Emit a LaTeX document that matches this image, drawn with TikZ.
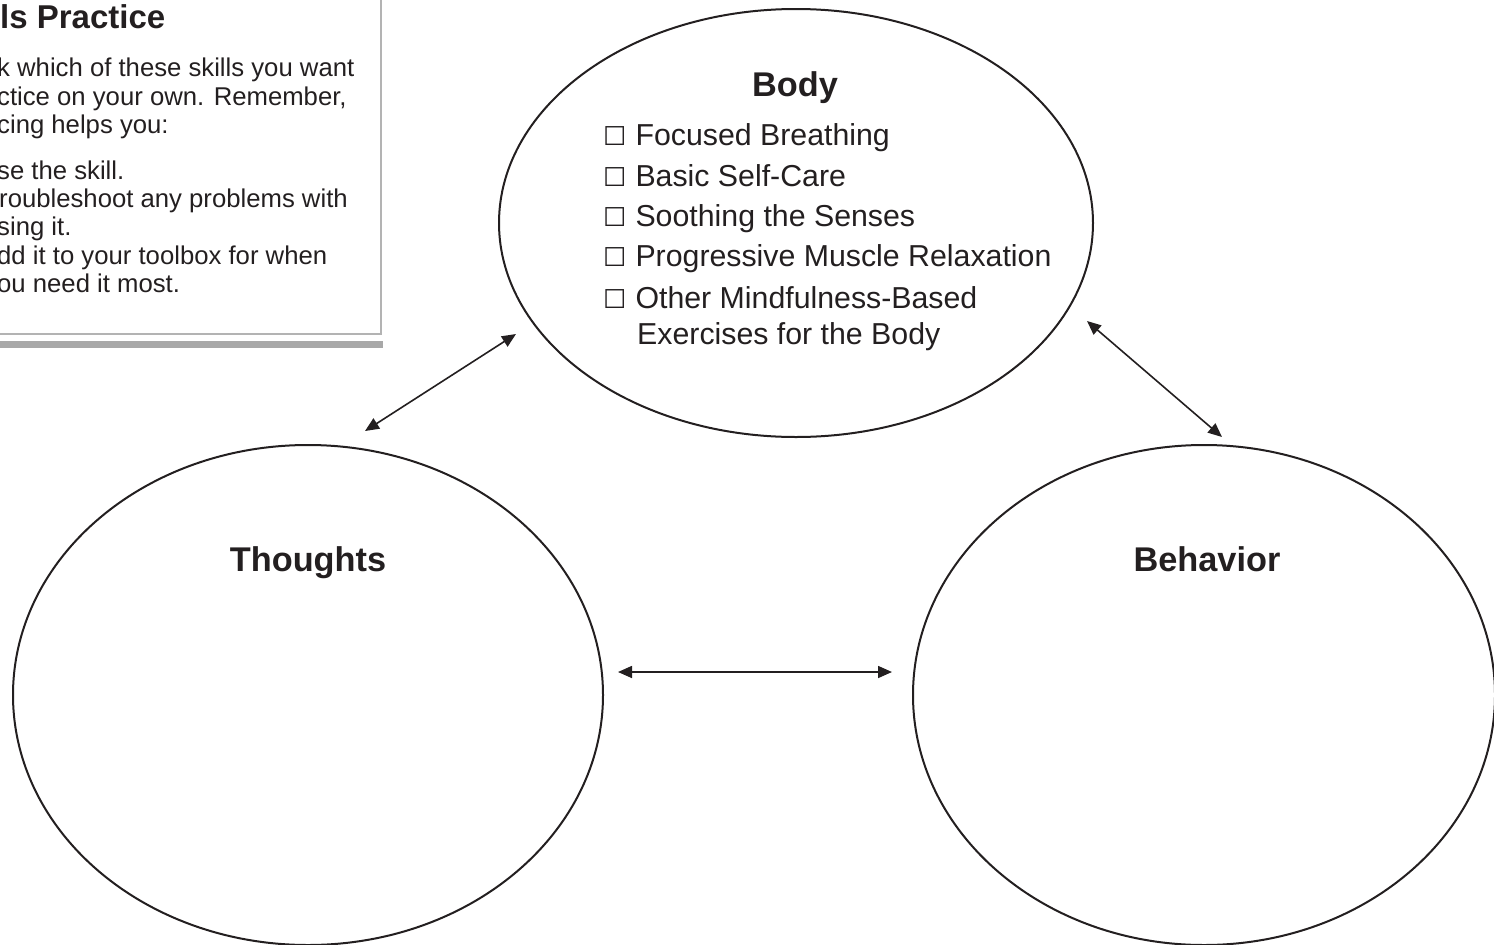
\documentclass[tikz,border=0pt]{standalone}
\usepackage{fontspec}
\setmainfont{Liberation Sans}
\newfontfamily\symfont{DejaVu Sans}
\usetikzlibrary{shapes.geometric,arrows.meta}
\definecolor{ink}{HTML}{231F20}
\definecolor{frame}{HTML}{B3B3B3}
\definecolor{bar}{HTML}{A8A8A8}
\newcommand\chkbox{{\symfont\fontsize{26}{30}\selectfont ☐}\hspace{9pt}}

\begin{document}
\begin{tikzpicture}[x=1pt,y=-1pt,
  circ/.style={ellipse, draw=ink, line width=2pt, inner sep=0pt},
  heading/.style={anchor=base, inner sep=0pt, font=\fontsize{34.3}{40}\selectfont\bfseries, text=ink},
  item/.style={anchor=base west, inner sep=0pt, font=\fontsize{30.3}{36}\selectfont, text=ink},
  note/.style={anchor=base west, inner sep=0pt, font=\fontsize{25.7}{30}\selectfont, text=ink},
  title/.style={anchor=base west, inner sep=0pt, font=\fontsize{33}{38}\selectfont\bfseries, text=ink},
  link/.style={{Triangle[length=14pt,width=12pt]}-{Triangle[length=14pt,width=12pt]}, line width=1.6pt, draw=ink}
]
\useasboundingbox (0,0) rectangle (1494,945);

% practice panel in the top left corner
\draw[frame, line width=2.4pt] (-20,-20) rectangle (381,334);
\fill[bar] (-20,341) rectangle (383,348);
\node[title] (ttl) at (0,28) {ls Practice};
\node[note] (n1) at (-3,76)  {k which of these skills you want};
\node[note] (n2) at (-3,105) {ctice on your own. Remember,};
\node[note] (n3) at (-3,133) {cing helps you:};
\node[note] (n4) at (-3,179) {se the skill.};
\node[note] (n5) at (-1,207) {roubleshoot any problems with};
\node[note] (n6) at (-3,235) {sing it.};
\node[note] (n7) at (-3,264) {dd it to your toolbox for when};
\node[note] (n8) at (-3,292) {ou need it most.};

% the three circles
\node[circ, minimum width=594pt, minimum height=428pt] (body) at (796,223) {};
\node[circ, minimum width=590pt, minimum height=500pt] (thoughts) at (308,695) {};
\node[circ, minimum width=582pt, minimum height=500pt] (behavior) at (1204,695) {};

\node[heading] (bodyh) at (795,96) {Body};
\node[heading] (thoughtsh) at (308,571) {Thoughts};
\node[heading] (behaviorh) at (1207,571) {Behavior};

\node[item] (i1) at (603,145) {\chkbox Focused Breathing};
\node[item] (i2) at (603,186) {\chkbox Basic Self-Care};
\node[item] (i3) at (603,226) {\chkbox Soothing the Senses};
\node[item] (i4) at (603,266) {\chkbox Progressive Muscle Relaxation};
\node[item] (i5) at (603,308) {\chkbox Other Mindfulness-Based};
\node[item] (i6) at (i5.base west -| i1.base west) [yshift=-36pt, xshift=34pt] {Exercises for the Body};

% two-way links between the circles
\coordinate (bt-a) at (516,334);
\coordinate (bt-b) at (365,431);
\coordinate (bb-a) at (1087,321);
\coordinate (bb-b) at (1222,437);
\coordinate (tb-a) at (618,672);
\coordinate (tb-b) at (892,672);
\draw[link] (bt-b) -- (bt-a);
\draw[link] (bb-a) -- (bb-b);
\draw[link] (tb-a) -- (tb-b);
\end{tikzpicture}
\end{document}
